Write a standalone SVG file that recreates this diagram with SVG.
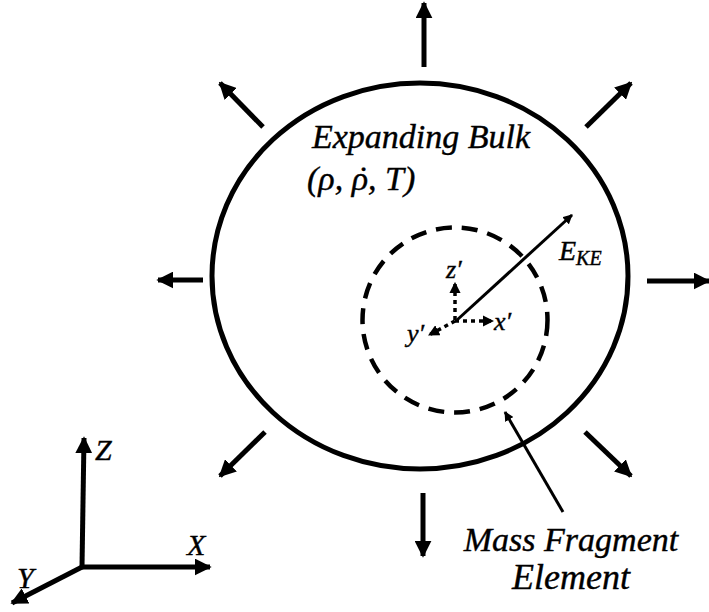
<svg xmlns="http://www.w3.org/2000/svg" width="709" height="612" viewBox="0 0 709 612">
<style>
.lbl{font-family:"Liberation Serif","DejaVu Serif",serif;font-style:italic;fill:#000;stroke:#000;stroke-width:0.4}
.thick{stroke:#000;stroke-width:5;fill:none}
.dot{stroke:#000;stroke-width:3.5;fill:none;stroke-dasharray:4 4}
</style>
<defs>
<marker id="ah" viewBox="0 0 10 10" refX="9" refY="5" markerWidth="3.4" markerHeight="3.4" orient="auto" markerUnits="strokeWidth">
<path d="M0,0 L10,5 L0,10 z" fill="#000"/>
</marker>
<marker id="ahs" viewBox="0 0 10 10" refX="9" refY="5" markerWidth="3.2" markerHeight="3.2" orient="auto" markerUnits="strokeWidth">
<path d="M0,0 L10,5 L0,10 z" fill="#000"/>
</marker>
<marker id="ahd" viewBox="0 0 10 10" refX="9" refY="5" markerWidth="3.2" markerHeight="3.2" orient="auto" markerUnits="strokeWidth">
<path d="M0,0 L10,5 L0,10 z" fill="#000"/>
</marker>
</defs>
<g id="bulk">
<ellipse cx="420" cy="276" rx="208" ry="193" class="thick" stroke-width="5.5"/>
<text class="lbl" x="312" y="148" font-size="34">Expanding Bulk</text>
<text class="lbl" x="307" y="190" font-size="34">(ρ, ρ<tspan dx="-12.2">˙</tspan><tspan dx="0.9">, T)</tspan></text>
</g>
<g id="fragment">
<circle cx="455" cy="320" r="92.5" fill="none" stroke="#000" stroke-width="4.5" stroke-dasharray="16 10"/>
</g>
<g id="fragment-label">
<text class="lbl" x="571" y="551" font-size="34" text-anchor="middle">Mass Fragment</text>
<text class="lbl" x="571" y="589" font-size="36" text-anchor="middle">Element</text>
</g>
<g id="local-axes">
<text class="lbl" x="446" y="278" font-size="26">z′</text>
<text class="lbl" x="494" y="330" font-size="26">x′</text>
<text class="lbl" x="407" y="342" font-size="26">y′</text>
</g>
<g id="ke-label">
<text class="lbl" x="559" y="260" font-size="28">E<tspan font-size="20" dy="5">KE</tspan></text>
</g>
<g id="global-axes">
<text class="lbl" x="95" y="460" font-size="30">Z</text>
<text class="lbl" x="187" y="555" font-size="30">X</text>
<text class="lbl" x="17" y="588" font-size="30">Y</text>
</g>
<g id="connectors">
<line x1="424" y1="67" x2="424" y2="3" class="thick" marker-end="url(#ah)"/>
<line x1="423" y1="493" x2="423" y2="556" class="thick" marker-end="url(#ah)"/>
<line x1="203" y1="280" x2="158" y2="280" class="thick" marker-end="url(#ah)"/>
<line x1="647" y1="281" x2="709" y2="281" class="thick" marker-end="url(#ah)"/>
<line x1="263" y1="127" x2="220" y2="83" class="thick" marker-end="url(#ah)"/>
<line x1="586" y1="127" x2="631" y2="83" class="thick" marker-end="url(#ah)"/>
<line x1="265" y1="432" x2="220" y2="476" class="thick" marker-end="url(#ah)"/>
<line x1="585" y1="432" x2="631" y2="476" class="thick" marker-end="url(#ah)"/>
<line x1="457" y1="320" x2="572" y2="215" stroke="#000" stroke-width="3" marker-end="url(#ahs)"/>
<line x1="563" y1="512" x2="505" y2="412" stroke="#000" stroke-width="3" marker-end="url(#ahs)"/>
<line x1="455" y1="320" x2="455" y2="283" class="dot" marker-end="url(#ahd)"/>
<line x1="455" y1="321" x2="493" y2="321" class="dot" marker-end="url(#ahd)"/>
<line x1="455" y1="321" x2="429" y2="335" class="dot" marker-end="url(#ahd)"/>
<line x1="82" y1="567" x2="84" y2="438" class="thick" marker-end="url(#ah)"/>
<line x1="82" y1="567" x2="210" y2="567" class="thick" marker-end="url(#ah)"/>
<line x1="84" y1="566" x2="12" y2="603" class="thick" marker-end="url(#ah)"/>
</g>
</svg>
